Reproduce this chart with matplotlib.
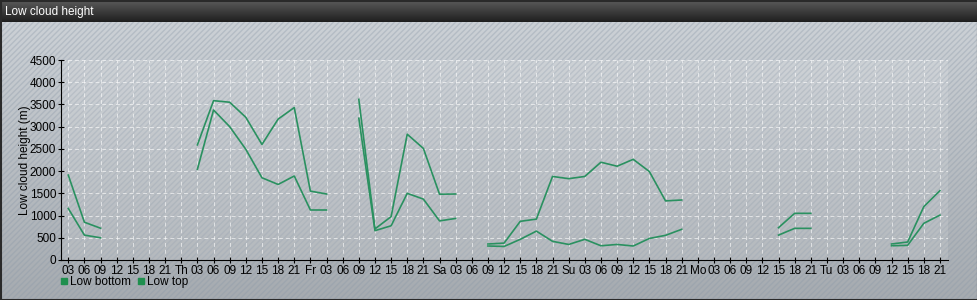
import numpy as np
import matplotlib.pyplot as plt
from matplotlib.patches import Rectangle
from matplotlib.lines import Line2D

plt.rcParams['font.family'] = ['Liberation Sans', 'DejaVu Sans']

nan = np.nan

# 3-hourly steps starting Wed 03h; day names stand at 00h
tick_labels = ['03', '06', '09', '12', '15', '18', '21']
for day in ['Th', 'Fr', 'Sa', 'Su', 'Mo', 'Tu']:
    tick_labels += [day, '03', '06', '09', '12', '15', '18', '21']

low_bottom = [1160, 560, 500, nan, nan, nan, nan, nan,
              2040, 3375, 3000, 2490, 1850, 1700, 1890, 1125, 1125, nan,
              3190, 660, 770, 1500, 1370, 880, 935, nan,
              315, 305, 465, 650, 420, 350, 465, 320, 350, 315, 485, 555, 690,
              nan, nan, nan, nan, nan,
              560, 712, 712, nan, nan, nan, nan,
              320, 330, 825, 1010]
low_top = [1910, 850, 715, nan, nan, nan, nan, nan,
           2590, 3585, 3550, 3210, 2600, 3170, 3430, 1550, 1485, nan,
           3615, 700, 975, 2830, 2510, 1480, 1485, nan,
           360, 380, 870, 920, 1880, 1830, 1880, 2200, 2110, 2265, 1990, 1330, 1350,
           nan, nan, nan, nan, nan,
           727, 1050, 1050, nan, nan, nan, nan,
           360, 405, 1200, 1560]

W, H = 978, 300
fig = plt.figure(figsize=(W / 100, H / 100), dpi=100)

# background gradient with diagonal stripes
bg = fig.add_axes([0, 0, 1, 1], zorder=-10)
bg.set_xlim(0, W)
bg.set_ylim(H, 0)
bg.axis('off')
grad = np.linspace(0, 1, 256).reshape(-1, 1)
top_c = np.array([0.80, 0.82, 0.84])
bot_c = np.array([0.65, 0.67, 0.69])
img = top_c + (bot_c - top_c) * grad[..., None]
bg.imshow(img, extent=[0, W, H, 22], aspect='auto')
bg.add_patch(Rectangle((0, 22), W, H - 22, fill=False, hatch='//////',
                       edgecolor=(0.55, 0.6, 0.66, 0.35), linewidth=0))

# title bar
tgrad = np.linspace(0, 1, 64).reshape(-1, 1)
t_top = np.array([0.36, 0.36, 0.36])
t_bot = np.array([0.12, 0.12, 0.12])
timg = t_top + (t_bot - t_top) * tgrad[..., None]
bg.imshow(timg, extent=[0, W, 22, 0], aspect='auto')
bg.text(5, 12, 'Low cloud height', color='white', fontsize=8.5, va='center')
bg.add_patch(Rectangle((0.5, 0.5), W - 1, H - 1, fill=False,
                       edgecolor='#2a2a2a', linewidth=1.5))

ax = fig.add_axes([61 / W, 40 / H, (948 - 61) / W, 200 / H])
ax.set_facecolor((1, 1, 1, 0.12))

x = np.arange(len(tick_labels))
green = '#2a9160'
ax.plot(x, low_bottom, color=green, lw=1.2)
ax.plot(x, low_top, color=green, lw=1.2)

ax.set_xlim(-0.45, len(tick_labels) - 0.5)
ax.set_ylim(0, 4500)
ax.set_xticks(x)
ax.set_xticklabels(tick_labels)
ax.set_yticks(np.arange(0, 4501, 500))
ax.tick_params(labelsize=8.5, length=5, direction='inout', width=0.8, pad=1)
ax.grid(True, color='white', alpha=0.6, linestyle=(0, (4, 3)), lw=0.7)
for s in ['top', 'right']:
    ax.spines[s].set_visible(False)
ax.set_ylabel('Low cloud height (m)', fontsize=8.5)
ax.yaxis.set_label_coords(-30 / 887, 0.5)

handles = [Line2D([], [], marker='s', color='none', markerfacecolor='#1f8f4e',
                  markeredgecolor='#1f8f4e', markersize=4.5),
           Line2D([], [], marker='s', color='none', markerfacecolor='#1f8f4e',
                  markeredgecolor='#1f8f4e', markersize=4.5)]
fig.legend(handles, ['Low bottom', 'Low top'], loc='center left',
           bbox_to_anchor=(55 / W, 1 - 282 / H), ncol=2, frameon=False,
           fontsize=8.5, handlelength=0.6, handletextpad=0.2,
           columnspacing=0.5, borderpad=0)

fig.savefig('out.png', dpi=100)
